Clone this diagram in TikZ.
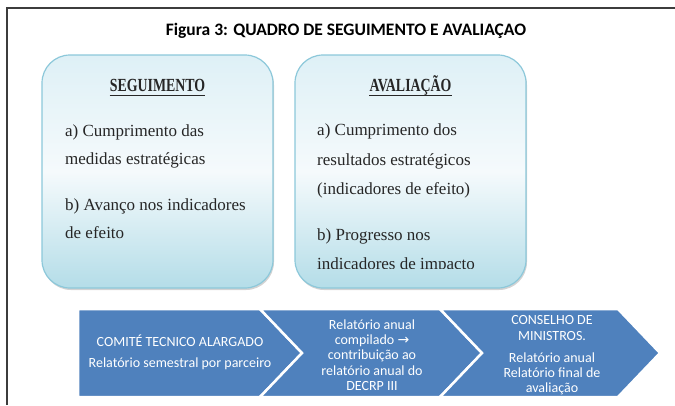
\documentclass[tikz,border=0pt]{standalone}
\usepackage{fontspec}
\setmainfont{Liberation Serif}
\newfontfamily\calib{Carlito}
\newfontfamily\condserif[FakeStretch=0.75]{Liberation Serif}
\newfontfamily\arrowfnt{DejaVu Sans}
\usetikzlibrary{shadows}
\definecolor{chevblue}{RGB}{79,129,189}
\definecolor{boxedge}{RGB}{140,200,218}
\definecolor{boxtop}{RGB}{222,240,246}
\definecolor{boxmid}{RGB}{245,250,252}
\definecolor{boxbot}{RGB}{180,221,232}
\definecolor{framecol}{RGB}{60,60,60}
\begin{document}
\begin{tikzpicture}[x=1bp,y=-1bp,
  panel/.style={draw=boxedge, line width=1.2bp, rounded corners=28bp,
    top color=boxtop, bottom color=boxbot, middle color=boxmid,
    drop shadow={shadow xshift=1bp, shadow yshift=-2bp, opacity=0.35, fill=gray}},
  chev/.style={fill=chevblue, draw=white, line width=2.5bp, line join=miter},
  bodytext/.style={font=\fontsize{17bp}{20bp}\selectfont, anchor=base west, inner sep=0pt, text=black!85},
  headtext/.style={font=\condserif\bfseries\fontsize{18.5bp}{20bp}\selectfont, anchor=base, inner sep=0pt, text=black!85},
  chevtext/.style={font=\calib\fontsize{14bp}{15.3bp}\selectfont, text=white, align=center, inner sep=0pt},
  ul/.style={black!85, line width=0.8bp}
]
\useasboundingbox (0,0) rectangle (675,405);

% outer frame
\draw[framecol, line width=1.5bp] (7,405) -- (7,8) -- (675,8);

% title
\node[font=\calib\bfseries\fontsize{17.5bp}{20bp}\selectfont, anchor=base, inner sep=0pt] (title) at (346,35)
  {Figura 3: QUADRO DE SEGUIMENTO E AVALIAÇAO};

% panels
\path[panel] (42,55) rectangle (273,288);
\path[panel] (295,55) rectangle (526,288);

% left panel text
\node[headtext] (segh) at (157.5,91) {SEGUIMENTO};
\draw[ul] ([yshift=-4.5bp]segh.base west) -- ([yshift=-4.5bp]segh.base east);
\node[bodytext] (s1) at (65,136) {a) Cumprimento das};
\node[bodytext] (s2) at (65,164) {medidas estratégicas};
\node[bodytext] (s3) at (65,210) {b) Avanço nos indicadores};
\node[bodytext] (s4) at (65,238) {de efeito};

% right panel text
\node[headtext] (avh) at (410.5,91) {AVALIAÇÃO};
\draw[ul] ([yshift=-4.5bp]avh.base west) -- ([yshift=-4.5bp]avh.base east);
\node[bodytext] (a1) at (317,135) {a) Cumprimento dos};
\node[bodytext] (a2) at (317,165) {resultados estratégicos};
\node[bodytext] (a3) at (317,194) {(indicadores de efeito)};
\node[bodytext] (a4) at (317,240) {b) Progresso nos};
\begin{scope}
  \clip (296,250) rectangle (525,268.5);
  \node[bodytext] (a5) at (317,269) {indicadores de impacto};
\end{scope}

% chevrons
\path[chev] (78,309) -- (260,309) -- (302,353) -- (260,397) -- (78,397) -- cycle;
\path[chev] (260,309) -- (440,309) -- (482,353) -- (440,397) -- (260,397) -- (302,353) -- cycle;
\path[chev] (440,309) -- (618,309) -- (660,353) -- (618,397) -- (440,397) -- (482,353) -- cycle;

\node[chevtext] (c1) at (180,352.5)
  {COMITÉ TECNICO ALARGADO\\[6bp]Relatório semestral por parceiro};
\node[chevtext] (c2) at (372,355)
  {Relatório anual\\compilado {\arrowfnt\fontsize{14bp}{15bp}\selectfont →}\\contribuição ao\\relatório anual do\\DECRP III};
\node[chevtext] (c3) at (552,355.5)
  {CONSELHO DE\\MINISTROS.\\[7bp]Relatório anual\\Relatório final de\\avaliação};
\end{tikzpicture}
\end{document}
